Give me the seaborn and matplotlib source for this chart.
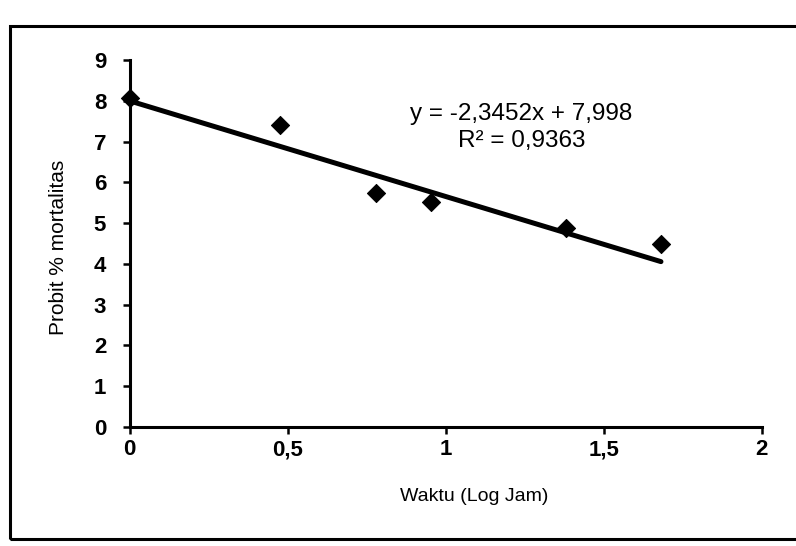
import matplotlib
matplotlib.use("Agg")
import matplotlib.pyplot as plt
import seaborn as sns
import numpy as np
import pandas as pd
from matplotlib.patches import Rectangle

# Data
log_jam = [0.0, 0.477, 0.778, 0.954, 1.380, 1.681]
probit = [8.08, 7.40, 5.73, 5.53, 4.88, 4.50]
slope = -2.3452
intercept = 7.998
r2_text = "R² = 0,9363"
eq_text = "y = -2,3452x + 7,998"
x_ticks = [0, 0.5, 1, 1.5, 2]
x_tick_labels = ["0", "0,5", "1", "1,5", "2"]
y_ticks = [0, 1, 2, 3, 4, 5, 6, 7, 8, 9]

sns.set_theme(style="white")
plt.rcParams['font.family'] = ['Liberation Sans', 'DejaVu Sans']

fig = plt.figure(figsize=(7.96, 5.46), dpi=100)
ax = fig.add_axes([0.163, 0.218, 0.794, 0.672])

df = pd.DataFrame({"x": log_jam, "y": probit})
fit_x = np.array([log_jam[0], log_jam[-1]])
fit_df = pd.DataFrame({"x": fit_x, "y": intercept + slope * fit_x})

sns.lineplot(data=fit_df, x="x", y="y", ax=ax, color="black", linewidth=3.6, zorder=2)
sns.scatterplot(data=df, x="x", y="y", ax=ax, marker="D", s=85, color="black",
                edgecolor="black", zorder=3, clip_on=False)

ax.set_xlim(0, 2)
ax.set_ylim(0, 9)
ax.set_xticks(x_ticks)
ax.set_xticklabels(x_tick_labels)
ax.set_yticks(y_ticks)
ax.tick_params(axis="both", labelsize=16, length=5, width=1.8, color="black",
               labelcolor="black", direction="out", bottom=True, left=True)
ax.tick_params(axis="x", pad=4)
ax.tick_params(axis="y", pad=12)
for lab in ax.get_xticklabels() + ax.get_yticklabels():
    lab.set_fontweight("bold")

for side in ["top", "right"]:
    ax.spines[side].set_visible(False)
for side in ["left", "bottom"]:
    ax.spines[side].set_color("black")
    ax.spines[side].set_linewidth(2.2)

ax.set_xlabel("Waktu (Log Jam)", fontsize=14, color="black")
ax.set_ylabel("Probit % mortalitas", fontsize=15, color="black")
ax.xaxis.set_label_coords(0.545, -0.167)
ax.yaxis.set_label_coords(-0.098, 0.49)

ax.text(1.24, 7.68, eq_text, fontsize=17.5, ha="center", va="center", color="black")
ax.text(1.24, 7.01, r2_text, fontsize=17.5, ha="center", va="center", color="black")

# outer frame
fig.patches.append(Rectangle((0.013, 0.012), 1.2, 0.94, transform=fig.transFigure,
                             fill=False, edgecolor="black", linewidth=2.2, zorder=0))

fig.savefig("out.png", dpi=100)
